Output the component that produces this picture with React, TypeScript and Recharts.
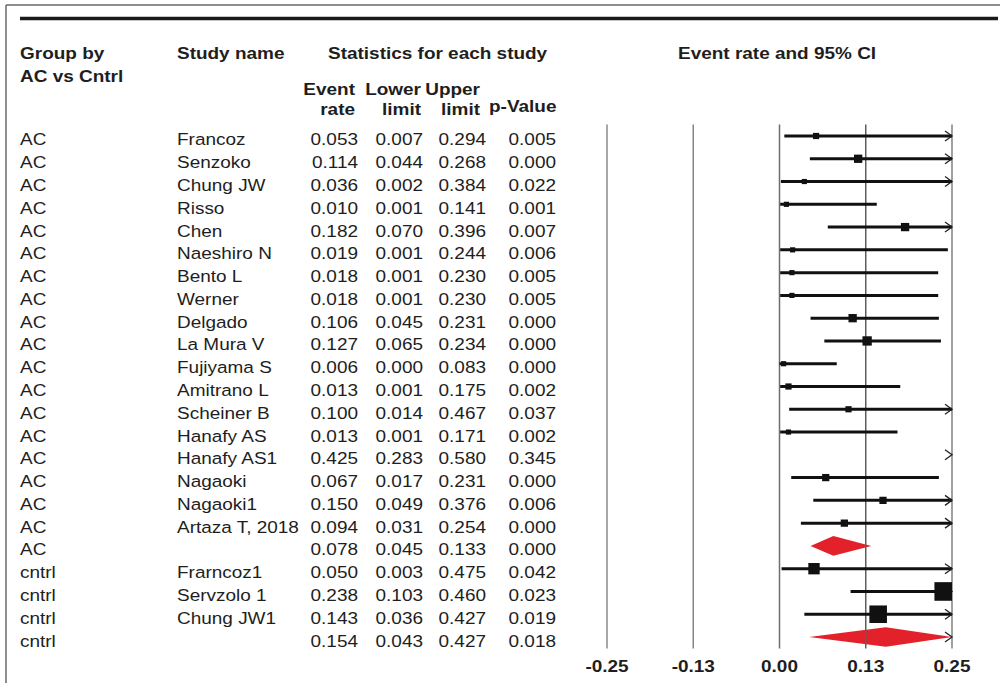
import React from 'react';
import { ScatterChart, Scatter, XAxis, YAxis, ReferenceLine, ReferenceDot, ReferenceArea } from 'recharts';

const groups = ['AC','AC','AC','AC','AC','AC','AC','AC','AC','AC','AC','AC','AC','AC','AC','AC','AC','AC','AC','cntrl','cntrl','cntrl','cntrl'];
const studyNames = ['Francoz','Senzoko','Chung JW','Risso','Chen','Naeshiro N','Bento L','Werner','Delgado','La Mura V','Fujiyama S','Amitrano L','Scheiner B','Hanafy AS','Hanafy AS1','Nagaoki','Nagaoki1','Artaza T, 2018','','Frarncoz1','Servzolo 1','Chung JW1',''];
const eventRates = [0.053,0.114,0.036,0.010,0.182,0.019,0.018,0.018,0.106,0.127,0.006,0.013,0.100,0.013,0.425,0.067,0.150,0.094,0.078,0.050,0.238,0.143,0.154];
const lowerLimits = [0.007,0.044,0.002,0.001,0.070,0.001,0.001,0.001,0.045,0.065,0.000,0.001,0.014,0.001,0.283,0.017,0.049,0.031,0.045,0.003,0.103,0.036,0.043];
const upperLimits = [0.294,0.268,0.384,0.141,0.396,0.244,0.230,0.230,0.231,0.234,0.083,0.175,0.467,0.171,0.580,0.231,0.376,0.254,0.133,0.475,0.460,0.427,0.427];
const pValues = [0.005,0.000,0.022,0.001,0.007,0.006,0.005,0.005,0.000,0.000,0.000,0.002,0.037,0.002,0.345,0.000,0.006,0.000,0.000,0.042,0.023,0.019,0.018];
// relative study weights (%), null = subgroup summary row
const studyWeights: (number | null)[] = [4.9,8.8,3.4,3.4,8.8,3.4,3.4,3.4,8.8,11.1,3.4,4.9,4.9,3.4,12.0,6.7,6.7,6.7,null,16.5,44.2,39.3,null];
const xTicks = [-0.25, -0.125, 0, 0.125, 0.25];

const X_MIN = xTicks[0];
const X_MAX = xTicks[xTicks.length - 1];
const FONT = '"Liberation Sans", Arial, Helvetica, sans-serif';
const SX = 1.15;
const TXT = '#1e1e1e';

const rows = studyNames.map((name, i) => ({
  i,
  group: groups[i],
  name,
  est: eventRates[i],
  lo: lowerLimits[i],
  hi: upperLimits[i],
  p: pValues[i],
  w: studyWeights[i],
  summary: studyWeights[i] == null,
}));

const boxData = rows
  .filter((r) => !r.summary && r.est >= X_MIN && r.est <= X_MAX)
  .map((r) => ({ x: r.est, y: r.i, w: r.w as number }));

const SText = ({ x, y, anchor = 'start', bold = false, size = 16.5, children }: any) => (
  <text
    transform={`translate(${x},${y}) scale(${SX},1)`}
    textAnchor={anchor}
    fontFamily={FONT}
    fontSize={size}
    fontWeight={bold ? 'bold' : 'normal'}
    fill={TXT}
  >
    {children}
  </text>
);

const RowTick = (props: any) => {
  const { y, payload } = props;
  const r = rows[payload.value];
  if (!r) return null;
  const b = y + 9.5;
  return (
    <g>
      <SText x={20} y={b}>{r.group}</SText>
      <SText x={177} y={b}>{r.name}</SText>
      <SText x={358} y={b} anchor="end">{r.est.toFixed(3)}</SText>
      <SText x={423} y={b} anchor="end">{r.lo.toFixed(3)}</SText>
      <SText x={486} y={b} anchor="end">{r.hi.toFixed(3)}</SText>
      <SText x={556} y={b} anchor="end">{r.p.toFixed(3)}</SText>
    </g>
  );
};

const XTick = (props: any) => {
  const { x, y, payload } = props;
  return (
    <SText x={x} y={y + 23.5} anchor="middle" bold size={16.5}>
      {Number(payload.value).toFixed(2)}
    </SText>
  );
};

const BoxShape = (props: any) => {
  const { cx, cy, payload } = props;
  const s = 2.8 * Math.sqrt(payload.w);
  return <rect x={cx - s / 2} y={cy - s / 2} width={s} height={s} fill="#111" />;
};

const ArrowShape = (props: any) => {
  const { cx, cy } = props;
  return (
    <polyline
      points={`${cx - 7},${cy - 5} ${cx},${cy} ${cx - 7},${cy + 5}`}
      fill="none"
      stroke="#222"
      strokeWidth={1.3}
    />
  );
};

const makeDiamond = (frac: number) => (props: any) => {
  const { x, y, width, height } = props;
  const mx = x + width * frac;
  const pts = `${x},${y + height / 2} ${mx},${y} ${x + width},${y + height / 2} ${mx},${y + height}`;
  return <polygon points={pts} fill="#e3212a" stroke="none" />;
};

const gridColors = ['#a8a8a8', '#858585', '#6e6e6e', '#5e5e5e', '#a0a0a0'];

export default function App() {
  return (
    <div style={{ position: 'absolute', left: 0, top: 0, width: 1000, height: 683, background: '#fff', overflow: 'hidden' }}>
      <ScatterChart width={1000} height={683} margin={{ top: 124.6, right: 48, bottom: 0, left: 0 }}>
        <XAxis
          type="number"
          dataKey="x"
          domain={[X_MIN, X_MAX]}
          ticks={xTicks}
          allowDataOverflow
          axisLine={false}
          tickLine={false}
          tickSize={0}
          tickMargin={0}
          height={34.6}
          interval={0}
          tick={<XTick />}
        />
        <YAxis
          type="number"
          dataKey="y"
          domain={[-0.5, rows.length - 0.5]}
          ticks={rows.map((r) => r.i)}
          reversed
          allowDataOverflow
          axisLine={false}
          tickLine={false}
          width={607}
          interval={0}
          tick={<RowTick />}
        />
        {xTicks.map((t, k) => (
          <ReferenceLine key={`g${k}`} x={t} stroke={gridColors[k]} strokeWidth={k === 0 || k === 4 ? 2 : 1.5} />
        ))}
        {rows
          .filter((r) => !r.summary && r.lo < X_MAX)
          .map((r) => (
            <ReferenceLine
              key={`w${r.i}`}
              segment={[
                { x: Math.max(r.lo, X_MIN), y: r.i },
                { x: Math.min(r.hi, X_MAX), y: r.i },
              ]}
              stroke="#111"
              strokeWidth={3}
            />
          ))}
        {rows
          .filter((r) => r.summary)
          .map((r) => {
            const hiC = Math.min(r.hi, X_MAX);
            const frac = (r.est - r.lo) / (hiC - r.lo);
            return (
              <ReferenceArea
                key={`d${r.i}`}
                x1={r.lo}
                x2={hiC}
                y1={r.i - 0.43}
                y2={r.i + 0.43}
                shape={makeDiamond(frac)}
              />
            );
          })}
        {rows
          .filter((r) => r.hi > X_MAX)
          .map((r) => (
            <ReferenceDot key={`a${r.i}`} x={X_MAX} y={r.i} shape={ArrowShape} />
          ))}
        <Scatter data={boxData} shape={BoxShape} isAnimationActive={false} />
      </ScatterChart>
      <svg
        width={1000}
        height={683}
        style={{ position: 'absolute', left: 0, top: 0, pointerEvents: 'none' }}
      >
        <line x1={6} y1={5} x2={1000} y2={5} stroke="#6a6a6a" strokeWidth={1.5} />
        <line x1={6} y1={5} x2={6} y2={683} stroke="#6a6a6a" strokeWidth={1.5} />
        <line x1={20} y1={18.5} x2={998} y2={18.5} stroke="#1a1a1a" strokeWidth={3.5} />
        <SText x={20} y={59} bold>Group by</SText>
        <SText x={20} y={82} bold>AC vs Cntrl</SText>
        <SText x={177} y={59} bold>Study name</SText>
        <SText x={328} y={59} bold>Statistics for each study</SText>
        <SText x={678} y={59} bold>Event rate and 95% CI</SText>
        <SText x={355} y={95} bold anchor="end">Event</SText>
        <SText x={355} y={115} bold anchor="end">rate</SText>
        <SText x={421} y={95} bold anchor="end">Lower</SText>
        <SText x={421} y={115} bold anchor="end">limit</SText>
        <SText x={480} y={95} bold anchor="end">Upper</SText>
        <SText x={480} y={115} bold anchor="end">limit</SText>
        <SText x={489} y={112} bold>p-Value</SText>
      </svg>
    </div>
  );
}
